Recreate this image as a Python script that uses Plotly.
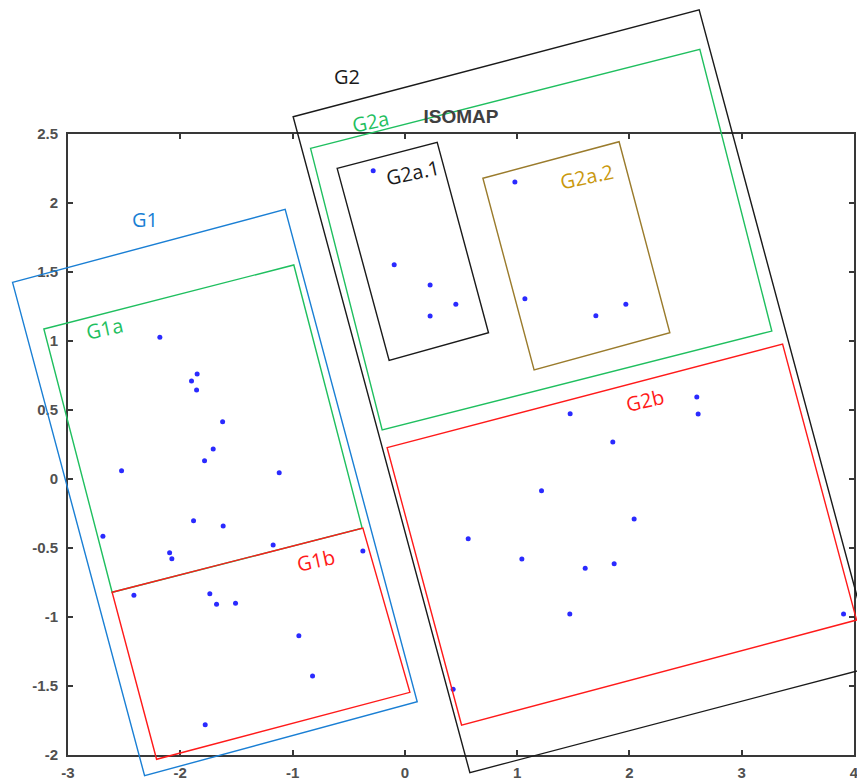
import plotly.graph_objects as go

# ---- data (ISOMAP embedding) ----
x_vals = [-2.182, -1.850, -1.900, -1.855, -1.623, -1.707, -1.784, -2.523, -1.119, -2.689,
          -1.882, -1.618, -1.173, -2.095, -2.075, -2.413, -1.737, -1.677, -1.508, -0.374,
          -0.944, -0.822, -1.778,
          -0.282, -0.095, 0.225, 0.454, 0.225,
          0.980, 1.069, 1.701, 1.968,
          2.600, 2.612, 1.472, 1.852, 1.217, 2.042, 0.564, 1.042, 1.606, 1.864,
          1.469, 3.907, 0.430]
y_vals = [1.027, 0.761, 0.710, 0.645, 0.415, 0.217, 0.133, 0.060, 0.046, -0.415,
          -0.302, -0.341, -0.478, -0.534, -0.578, -0.843, -0.831, -0.908, -0.901, -0.522,
          -1.136, -1.428, -1.780,
          2.234, 1.553, 1.406, 1.266, 1.181,
          2.152, 1.307, 1.183, 1.266,
          0.594, 0.471, 0.473, 0.268, -0.085, -0.290, -0.433, -0.580, -0.647, -0.614,
          -0.978, -0.978, -1.524]

x_range = [-3, 4]
y_range = [-2, 2.5]
x_ticks = [-3, -2, -1, 0, 1, 2, 3, 4]
x_tick_labels = ["-3", "-2", "-1", "0", "1", "2", "3", "4"]
y_ticks = [-2, -1.5, -1, -0.5, 0, 0.5, 1, 1.5, 2, 2.5]
y_tick_labels = ["-2", "-1.5", "-1", "-0.5", "0", "0.5", "1", "1.5", "2", "2.5"]

# ---- group boxes (corners in data units) ----
box_names = ["G1", "G1a", "G1b", "G2", "G2a", "G2a.1", "G2a.2", "G2b"]
box_corners = [
    [(-3.494, 1.425), (-1.066, 1.954), (0.110, -1.614), (-2.318, -2.150)],
    [(-3.215, 1.087), (-0.989, 1.551), (-0.380, -0.357), (-2.607, -0.821)],
    [(-2.607, -0.821), (-0.374, -0.355), (0.045, -1.546), (-2.211, -2.031)],
    [(-0.995, 2.625), (2.621, 3.399), (4.194, -1.355), (0.579, -2.128)],
    [(-0.840, 2.396), (2.627, 3.114), (3.268, 1.072), (-0.202, 0.355)],
    [(-0.603, 2.251), (0.288, 2.440), (0.745, 1.060), (-0.140, 0.860)],
    [(0.695, 2.179), (1.908, 2.444), (2.360, 1.060), (1.151, 0.790)],
    [(-0.158, 0.227), (3.364, 0.978), (4.023, -1.022), (0.505, -1.783)],
]
box_colors = ["#1a7fd4", "#1fbf5f", "#ff1a1a", "#1a1a1a", "#1fbf5f", "#1a1a1a", "#9a7b2c", "#ff1a1a"]
label_pos = [(-2.315, 1.882), (-2.672, 1.092), (-0.793, -0.594), (-0.519, 2.920),
             (-0.305, 2.589), (0.074, 2.220), (1.623, 2.191), (2.137, 0.567)]
label_colors = ["#1a7fd4", "#1fbf5f", "#ff1a1a", "#1a1a1a", "#1fbf5f", "#1a1a1a", "#c9980c", "#ff1a1a"]
label_angles = [0, -12, -12, 0, -12, -12, -12, -13]


def fx(x):
    return (x - x_range[0]) / (x_range[1] - x_range[0])


def fy(y):
    return (y - y_range[0]) / (y_range[1] - y_range[0])


fig = go.Figure()
fig.add_trace(go.Scatter(
    x=x_vals, y=y_vals, mode="markers",
    marker=dict(color="#2a2aff", size=5, line=dict(width=0)),
    showlegend=False, hoverinfo="x+y",
))

shapes = []
annotations = []
for name, corners, col, lp, lc, ang in zip(box_names, box_corners, box_colors,
                                             label_pos, label_colors, label_angles):
    path = "M " + " L ".join(f"{fx(cx):.5f},{fy(cy):.5f}" for cx, cy in corners) + " Z"
    shapes.append(dict(type="path", xref="paper", yref="paper", path=path,
                       line=dict(color=col, width=1.4), layer="above"))
    annotations.append(dict(xref="paper", yref="paper", x=fx(lp[0]), y=fy(lp[1]),
                            text=name, showarrow=False, textangle=ang,
                            font=dict(family="Open Sans", size=20, color=lc),
                            xanchor="center", yanchor="middle"))

axis_common = dict(
    showgrid=False, zeroline=False, showline=True, linecolor="#383838", linewidth=2,
    mirror="ticks", ticks="inside", ticklen=5, tickwidth=1.5, tickcolor="#383838",
    tickfont=dict(family="Liberation Sans, Arial", size=15, color="#505050", weight="bold"),
    tickmode="array", automargin=False,
)

# The page body has an 8px margin, so the figure is sized to end at the window edge.
fig.update_layout(
    template="none",
    width=857, height=773,
    margin=dict(l=60, r=11, t=126, b=26, autoexpand=False),
    paper_bgcolor="white", plot_bgcolor="white",
    title=dict(text="<b>ISOMAP</b>", x=0.5, xanchor="center", y=1 - 108 / 773,
               yanchor="middle", xref="paper", yref="container",
               font=dict(family="Liberation Sans, Arial", size=19, color="#404040")),
    xaxis=dict(range=x_range, tickvals=x_ticks, ticktext=x_tick_labels,
               ticklabelstandoff=3, **axis_common),
    yaxis=dict(range=y_range, tickvals=y_ticks, ticktext=y_tick_labels,
               ticklabelstandoff=5, **axis_common),
    shapes=shapes,
    annotations=annotations,
    showlegend=False,
)

fig.write_html("out.html")
